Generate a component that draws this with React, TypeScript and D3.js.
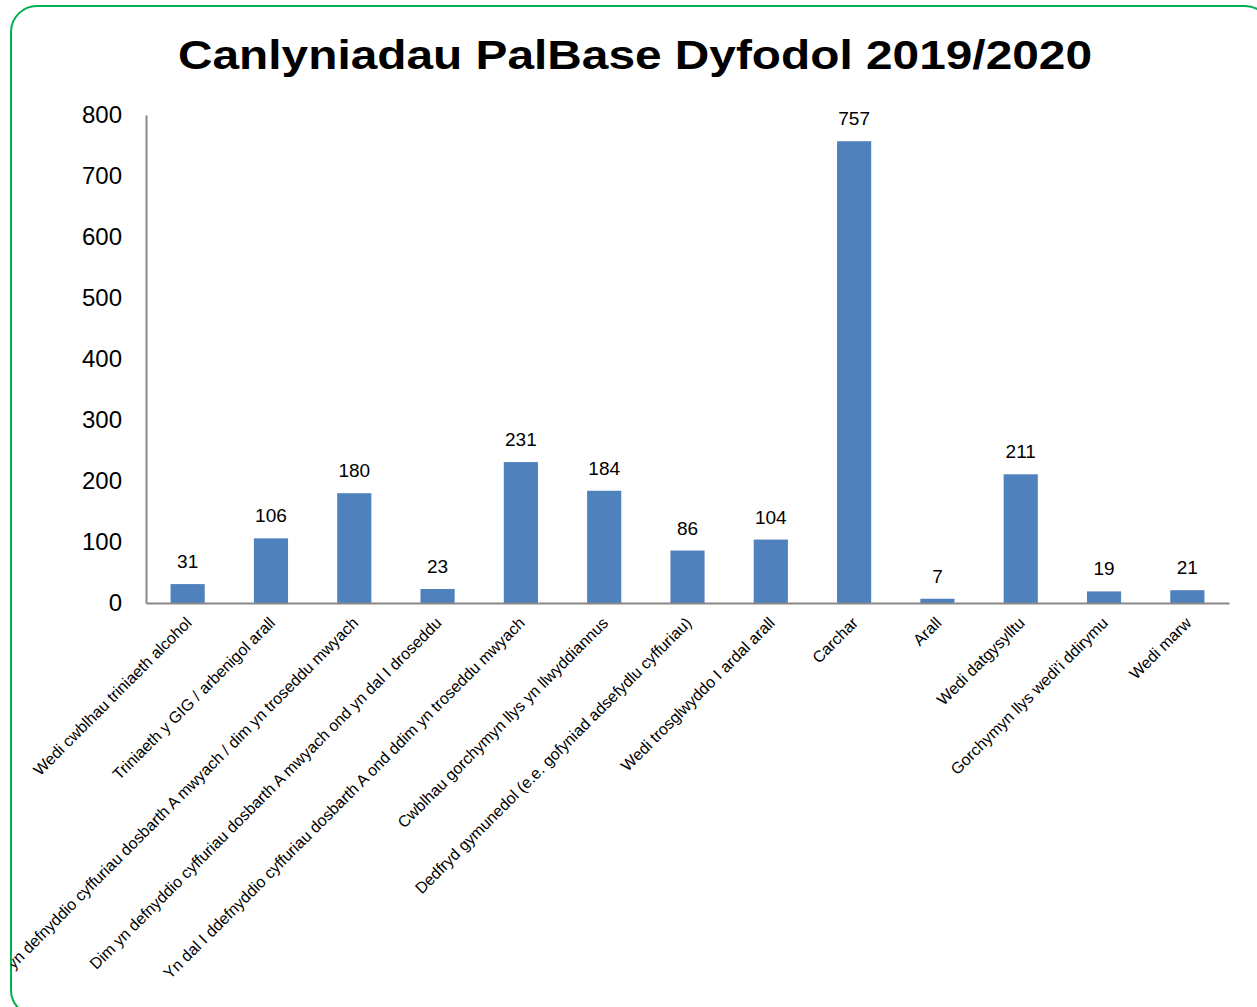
import React, { useEffect, useRef } from "react";
import * as d3 from "d3";

// Chart data
const categories = [
  "Wedi cwblhau triniaeth alcohol",
  "Triniaeth y GIG / arbenigol arall",
  "Dim yn defnyddio cyffuriau dosbarth A mwyach / dim yn troseddu mwyach",
  "Dim yn defnyddio cyffuriau dosbarth A mwyach ond yn dal I droseddu",
  "Yn dal I ddefnyddio cyffuriau dosbarth A ond ddim yn troseddu mwyach",
  "Cwblhau gorchymyn llys yn llwyddiannus",
  "Dedfryd gymunedol (e.e. gofyniad adsefydlu cyffuriau)",
  "Wedi trosglwyddo I ardal arall",
  "Carchar",
  "Arall",
  "Wedi datgysylltu",
  "Gorchymyn llys wedi'i ddirymu",
  "Wedi marw",
];
const values = [31, 106, 180, 23, 231, 184, 86, 104, 757, 7, 211, 19, 21];
const yTicks = [0, 100, 200, 300, 400, 500, 600, 700, 800];
const title = "Canlyniadau PalBase Dyfodol 2019/2020";

const width = 1257;
const height = 1007;
const margin = { left: 146, right: 28, top: 115, bottom: 404 };
const font = "Liberation Sans, Arial, sans-serif";

const App: React.FC = () => {
  const ref = useRef<SVGSVGElement>(null);

  useEffect(() => {
    const svg = d3.select(ref.current);
    svg.selectAll("*").remove();

    // clip to the rounded frame
    svg
      .append("defs")
      .append("clipPath")
      .attr("id", "frame")
      .append("rect")
      .attr("x", 11)
      .attr("y", 6)
      .attr("width", 1260)
      .attr("height", 1010)
      .attr("rx", 26);

    svg
      .append("rect")
      .attr("x", 11)
      .attr("y", 6)
      .attr("width", 1260)
      .attr("height", 1010)
      .attr("rx", 26)
      .attr("fill", "white")
      .attr("stroke", "#00B050")
      .attr("stroke-width", 2);

    const g = svg.append("g").attr("clip-path", "url(#frame)");

    const x = d3
      .scaleBand<string>()
      .domain(categories)
      .range([margin.left, width - margin.right])
      .paddingInner(0.59)
      .paddingOuter(0.295);

    const y = d3
      .scaleLinear()
      .domain([0, 800])
      .range([height - margin.bottom, margin.top]);

    // title (the original is drawn a little wide)
    g.append("text")
      .attr("x", 635)
      .attr("y", 69)
      .attr("text-anchor", "middle")
      .attr("font-family", font)
      .attr("font-weight", "bold")
      .attr("font-size", 41)
      .attr("textLength", 914)
      .attr("lengthAdjust", "spacingAndGlyphs")
      .text(title);

    // bars
    g.selectAll("rect.bar")
      .data(values)
      .enter()
      .append("rect")
      .attr("class", "bar")
      .attr("x", (d, i) => x(categories[i])!)
      .attr("y", (d) => y(d))
      .attr("width", x.bandwidth())
      .attr("height", (d) => y(0) - y(d))
      .attr("fill", "#4F81BD");

    // data labels
    g.selectAll("text.val")
      .data(values)
      .enter()
      .append("text")
      .attr("class", "val")
      .attr("x", (d, i) => x(categories[i])! + x.bandwidth() / 2)
      .attr("y", (d) => y(d) - 16)
      .attr("text-anchor", "middle")
      .attr("font-family", font)
      .attr("font-size", 19)
      .text((d) => d);

    // y axis
    const yAxis = g
      .append("g")
      .attr("transform", `translate(${margin.left},0)`)
      .call(d3.axisLeft(y).tickValues(yTicks).tickSize(0).tickPadding(24));
    yAxis.select(".domain").attr("stroke", "#888").attr("stroke-width", 2);
    yAxis
      .selectAll("text")
      .attr("font-family", font)
      .attr("font-size", 24)
      .attr("fill", "#000");

    // x axis
    const xAxis = g
      .append("g")
      .attr("transform", `translate(0,${y(0)})`)
      .call(d3.axisBottom(x).tickSize(0).tickFormat(() => ""));
    xAxis.select(".domain").attr("stroke", "#888").attr("stroke-width", 2);

    // rotated category labels
    g.selectAll("text.cat")
      .data(categories)
      .enter()
      .append("text")
      .attr("class", "cat")
      .attr(
        "transform",
        (d) => `translate(${x(d)! + x.bandwidth() / 2 + 5},${y(0) + 21}) rotate(-45)`
      )
      .attr("text-anchor", "end")
      .attr("font-family", font)
      .attr("font-size", 16)
      .text((d) => d);
  }, []);

  return (
    <svg
      ref={ref}
      width={width}
      height={height}
      style={{ position: "absolute", left: 0, top: 0 }}
    />
  );
};

export default App;
